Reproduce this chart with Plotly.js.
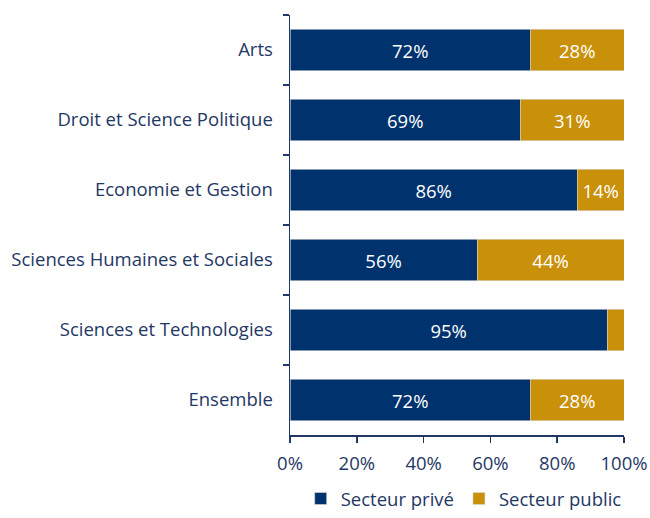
<!DOCTYPE html>
<html><head><meta charset="utf-8">
<script src="https://cdn.plot.ly/plotly-3.0.1.min.js"></script>
<style>body{margin:0}#c{width:650px;height:518px}</style>
</head><body><div id="c"></div>
<script>
const categories = ["Arts","Droit et Science Politique","Economie et Gestion","Sciences Humaines et Sociales","Sciences et Technologies","Ensemble"];
const prive = [72,69,86,56,95,72];
const public_ = [28,31,14,44,5,28];
const tickVals = [0,20,40,60,80,100];
const tickText = ["0%","20%","40%","60%","80%","100%"];
const lab = v => v >= 10 ? v + "%" : "";
const txtColor = "#1F3864";
const fs = 18.5;
const font = {family:"'Open Sans', sans-serif", size:fs, color:txtColor};
const traces = [
 {type:"bar", orientation:"h", name:"Secteur privé", y:categories, x:prive, text:prive.map(lab),
  textposition:"inside", insidetextanchor:"middle", textfont:{color:"#ffffff", size:fs}, hoverinfo:"none",
  marker:{color:"#00336E", line:{color:"#dddddd", width:0.6}}, width:0.59},
 {type:"bar", orientation:"h", name:"Secteur public", y:categories, x:public_, text:public_.map(lab),
  textposition:"inside", insidetextanchor:"middle", textfont:{color:"#ffffff", size:fs}, hoverinfo:"none",
  marker:{color:"#C9900A", line:{color:"#dddddd", width:0.6}}, width:0.59}
];
const layout = {
 width:650, height:518, barmode:"stack", font:font,
 margin:{l:290, r:26, t:15, b:83, autoexpand:false},
 paper_bgcolor:"#fff", plot_bgcolor:"#fff",
 showlegend:true,
 legend:{orientation:"h", x:0.52, xanchor:"center", yref:"container", y:0.0, yanchor:"bottom", font:{size:fs, color:txtColor}, traceorder:"normal", itemwidth:30},
 xaxis:{range:[0,100], tickvals:tickVals, ticktext:tickText, showgrid:false, zeroline:false, automargin:false,
  showline:true, linecolor:txtColor, linewidth:1.5, ticks:"outside", ticklen:6, tickcolor:txtColor, tickwidth:1.5,
  ticklabelstandoff:5, fixedrange:true},
 yaxis:{type:"category", autorange:"reversed", showgrid:false, zeroline:false, automargin:false,
  showline:true, linecolor:txtColor, linewidth:1.5, ticks:"outside", tickson:"boundaries", ticklen:6,
  tickcolor:txtColor, tickwidth:1.5, ticklabelstandoff:12, fixedrange:true}
};
Plotly.newPlot("c", traces, layout, {displayModeBar:false, staticPlot:true});
</script></body></html>
